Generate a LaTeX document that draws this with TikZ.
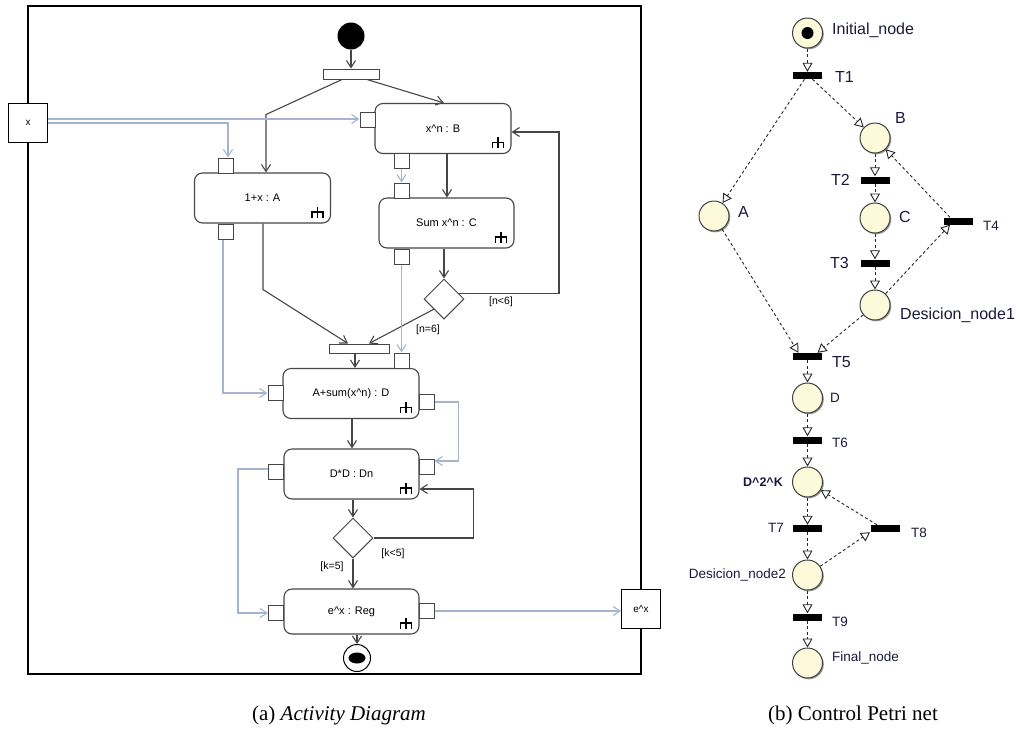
\documentclass[tikz,border=0pt]{standalone}
\usepackage{fontspec}
\setmainfont{Liberation Serif}
\newfontfamily\arialfont{Liberation Sans}
\usepackage{xcolor}
\usepackage{tikz}
\usetikzlibrary{arrows.meta,shapes,shadows}

\definecolor{flowgray}{RGB}{70,70,70}
\definecolor{objblue}{RGB}{165,180,208}
\definecolor{cream}{RGB}{252,250,218}
\definecolor{pntext}{RGB}{25,25,60}

\begin{document}
\begin{tikzpicture}[x=1pt, y=-1pt,
    every node/.style={font=\arialfont\fontsize{11}{12}\selectfont},
    action/.style={draw=flowgray, line width=1.1pt, rounded corners=8pt, fill=white, minimum width=136pt, minimum height=50pt, inner sep=0pt},
    apin/.style={draw=flowgray, line width=1pt, fill=white, minimum width=15pt, minimum height=15pt, inner sep=0pt},
    iopin/.style={draw=black, line width=0.8pt, fill=white, minimum size=39pt, inner sep=0pt, font=\arialfont\fontsize{10}{12}\selectfont},
    forkbar/.style={draw=flowgray, line width=1pt, fill=white, inner sep=0pt},
    decision/.style={diamond, aspect=1, draw=flowgray, line width=1pt, fill=white, minimum size=40pt, inner sep=0pt},
    ctrlflow/.style={draw=flowgray, line width=1.1pt, -{Straight Barb[length=7pt,width=9pt]}},
    objflow/.style={draw=objblue, line width=1.1pt, -{Straight Barb[length=7pt,width=9pt]}},
    guard/.style={font=\arialfont\fontsize{10.5}{12}\selectfont},
    rake/.style={draw=black, line width=1.6pt},
    pnplace/.style={circle, draw=black!75, line width=1pt, fill=cream, minimum size=30pt, inner sep=0pt,
      drop shadow={shadow xshift=1.3pt, shadow yshift=-1.3pt, fill=black!50, opacity=0.8}},
    pntrans/.style={fill=black, minimum width=29pt, minimum height=7pt, inner sep=0pt},
    pnarc/.style={draw=black!85, line width=0.9pt, dash pattern=on 3pt off 2.5pt, -{Triangle[fill=white, length=9pt, width=10pt]}},
    pnbig/.style={text=pntext, font=\arialfont\fontsize{16}{17}\selectfont, inner sep=0pt},
    pnsmall/.style={text=pntext, font=\arialfont\fontsize{13.5}{15}\selectfont, inner sep=0pt},
    subcap/.style={font=\fontsize{21}{24}\selectfont}]
\useasboundingbox (0,0) rectangle (1020,732);

% activity diagram
\draw[line width=2.5pt] (28,6) rectangle (641,674);
\node[circle, fill=black, minimum size=27pt, inner sep=0pt] (init) at (351,36) {};
\node[forkbar, minimum width=56pt, minimum height=10pt] (fork1) at (351,74) {};
\node[action] (actA) at (262.5,198) {1+x : A};
\node[action] (actB) at (443,128.5) {x\textasciicircum n : B};
\node[action, minimum width=135pt] (actC) at (446.5,223) {Sum x\textasciicircum n : C};
\node[decision] (dec1) at (444,299) {};
\node[forkbar, minimum width=60pt, minimum height=9pt] (join) at (359,348.5) {};
\node[action] (actD) at (351,393.5) {A+sum(x\textasciicircum n) : D};
\node[action, minimum width=135pt] (actDn) at (351.5,474) {D*D : Dn};
\node[decision] (dec2) at (353,538) {};
\node[action, minimum width=135pt, minimum height=45pt] (actReg) at (351.5,611.5) {e\textasciicircum x : Reg};
\node[circle, draw=black, line width=1pt, fill=white, minimum size=27pt, inner sep=0pt] (final) at (357,658) {};
\node[ellipse, fill=black, minimum width=17pt, minimum height=11pt, inner sep=0pt] (finaldot) at (final) {};

\foreach \n/\x/\y in {pAt/226/165.5, pAb/226/231.5, pBl/367.5/120, pBb/401.5/161, pCt/401.5/190.5,
    pCb/401.5/256.5, pDt/401.5/360.5, pDl/275.5/393, pDr/426.5/402, pDnl/276/472, pDnr/426.5/466.5,
    pRl/276/613, pRr/427/611}
  \node[apin] (\n) at (\x,\y) {};
\node[iopin] (xin) at (28,123) {x};
\node[iopin] (eout) at (641,609) {e\textasciicircum x};

\foreach \a in {actA,actB,actC,actD,actDn,actReg}
  \draw[rake] ([shift={(-19,-6)}]\a.south east) -- ++(0,-5.5) -- ++(11,0) -- ++(0,5.5)
              ([shift={(-13.5,-6)}]\a.south east) -- ++(0,-11);

\draw[ctrlflow] (init) -- (fork1);
\draw[ctrlflow] ([xshift=-9]fork1.south) -- ++(-76,35) -- ([xshift=3.5]actA.north);
\draw[ctrlflow] ([xshift=16]fork1.south) -- ([xshift=1]actB.north);
\draw[ctrlflow] ([xshift=4]actB.south) -- ([xshift=4]actB.south |- actC.north);
\draw[ctrlflow] (actC.south -| dec1) -- (dec1.north);
\draw[ctrlflow] (dec1.20) -- ++(100,0) |- ([yshift=-3.5]actB.east);
\draw[ctrlflow] (dec1.south west) -- ([xshift=10]join.north);
\draw[ctrlflow] ([xshift=0.5]actA.south) -- ++(0,66) -- ([xshift=-11]join.north);
\draw[ctrlflow] ([xshift=-4]join.south) -- ([xshift=-4]join.south |- actD.north);
\draw[ctrlflow] ([xshift=1]actD.south) -- ([xshift=1]actD.south |- actDn.north);
\draw[ctrlflow] (actDn.south -| dec2) -- (dec2.north);
\draw[ctrlflow] (dec2.east) -- ++(100,0) |- ([yshift=-15]actDn.east);
\draw[ctrlflow] (dec2.south) -- (dec2.south |- actReg.north);
\draw[ctrlflow] (actReg.south -| final) -- (final.north);

\draw[objflow] ([yshift=4]xin.east) -- ([yshift=4]xin.east -| pBl.west);
\draw[objflow] (xin.east) -| ([xshift=2]pAt.north);
\draw[objflow] (pBb.south) -- (pCt.north);
\draw[objflow] (pCb.south) -- (pDt.north);
\draw[objflow] ([xshift=-3]pAb.south) |- (pDl.west);
\draw[objflow] (pDr.east) -- ++(24,0) |- ([yshift=5.5]pDnr.east);
\draw[objflow] ([yshift=3]pDnl.west) -- ++(-30,0) |- (pRl.west);
\draw[objflow] (pRr.east) -- (pRr.east -| eout.west);

\node[guard] (gnless) at (501,302) {[n<6]};
\node[guard] (gnequal) at (428,330) {[n=6]};
\node[guard] (gkless) at (393,554) {[k<5]};
\node[guard] (gkequal) at (332,567) {[k=5]};

% petri net
\foreach \n/\x/\y in {pInit/807.5/33, pA/714/216, pB/875/138, pC/875/218, pDec1/875/305,
    pD/807.5/398, pD2K/807.5/482, pDec2/807.5/575, pFin/807.5/663}
  \node[pnplace] (\n) at (\x,\y) {};
\node[circle, fill=black, minimum size=12pt, inner sep=0pt] (token) at (pInit) {};
\foreach \n/\x/\y in {tT1/807.5/75.5, tT2/875/180, tT3/875/263, tT4/958/221, tT5/807.5/356.5,
    tT6/807.5/440, tT7/807.5/528.5, tT8/885/528.5, tT9/807.5/617}
  \node[pntrans] (\n) at (\x,\y) {};

\foreach \a/\b in {pInit/tT1, pB/tT2, tT2/pC, pC/tT3, tT3/pDec1, tT5/pD, pD/tT6, tT6/pD2K,
    pD2K/tT7, tT7/pDec2, pDec2/tT9, tT9/pFin}
  \draw[pnarc] (\a) -- (\b);
\draw[pnarc] ([xshift=-3]tT1.south) -- (pA);
\draw[pnarc] ([xshift=5]tT1.south) -- (pB);
\draw[pnarc] (pDec1) -- ([xshift=-8]tT4.south);
\draw[pnarc] ([xshift=-8]tT4.north) -- (pB);
\draw[pnarc] (pA) -- ([xshift=-9]tT5.north);
\draw[pnarc] (pDec1) -- ([xshift=10]tT5.north);
\draw[pnarc] ([xshift=-8]tT8.north) -- (pD2K);
\draw[pnarc] (pDec2) -- ([xshift=-15]tT8.south);

\node[pnbig, anchor=west] (lInit) at (832,30) {Initial\_node};
\node[pnbig, anchor=west] (lT1) at (835,77) {T1};
\node[pnbig, anchor=west] (lB) at (895,118) {B};
\node[pnbig, anchor=west] (lA) at (738,212) {A};
\node[pnbig, anchor=east] (lT2) at (850,180) {T2};
\node[pnbig, anchor=west] (lC) at (899,217) {C};
\node[pnsmall, anchor=west] (lT4) at (983,226) {T4};
\node[pnbig, anchor=east] (lT3) at (849,263) {T3};
\node[pnbig, anchor=west] (lDec1) at (900,315) {Desicion\_node1};
\node[pnbig, anchor=west] (lT5) at (832,362) {T5};
\node[pnsmall, anchor=west] (lD) at (830,398) {D};
\node[pnsmall, anchor=west] (lT6) at (832,443) {T6};
\node[pnsmall, font=\arialfont\bfseries\fontsize{12.5}{14}\selectfont, anchor=east] (lD2K) at (783,482) {D\textasciicircum 2\textasciicircum K};
\node[pnsmall, anchor=east] (lT7) at (784,528) {T7};
\node[pnsmall, anchor=west] (lT8) at (911,533) {T8};
\node[pnsmall, anchor=east] (lDec2) at (786,575) {Desicion\_node2};
\node[pnsmall, anchor=west] (lT9) at (832,622) {T9};
\node[pnsmall, anchor=west] (lFin) at (832,658) {Final\_node};

\node[subcap] (capA) at (339,715) {(a) \textit{Activity Diagram}};
\node[subcap] (capB) at (853,715) {(b) Control Petri net};
\end{tikzpicture}
\end{document}
